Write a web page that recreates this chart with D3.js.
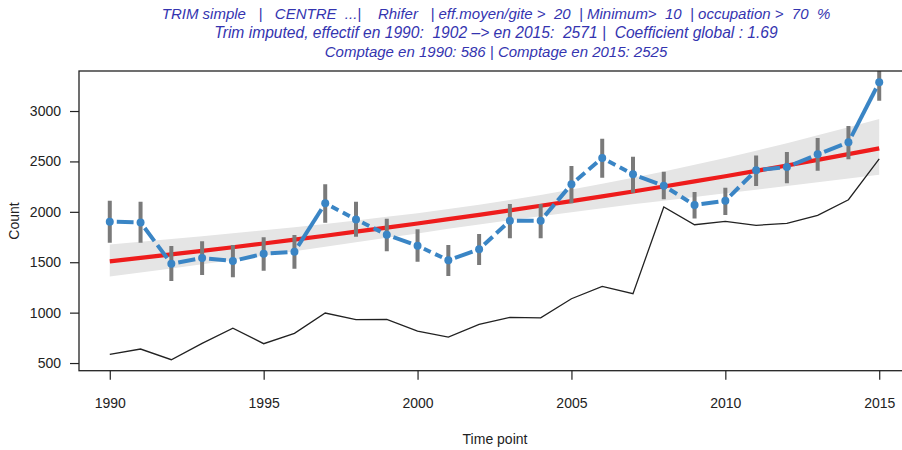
<!DOCTYPE html>
<html><head><meta charset="utf-8">
<script src="https://cdn.jsdelivr.net/npm/d3@7"></script>
<style>body{margin:0;background:#fff}svg{display:block}</style>
</head><body>
<svg id="c" width="902" height="450"></svg>
<script>
const years = [1990,1991,1992,1993,1994,1995,1996,1997,1998,1999,2000,2001,2002,2003,2004,2005,2006,2007,2008,2009,2010,2011,2012,2013,2014,2015];
const imputed = [1902,1895,1485,1542,1512,1584,1604,2084,1925,1773,1664,1519,1628,1912,1912,2273,2534,2372,2259,2067,2110,2412,2444,2570,2689,3285];
const errLow  = [1693,1693,1313,1373,1350,1416,1436,1892,1753,1608,1505,1363,1472,1737,1737,2084,2338,2190,2124,1935,1968,2256,2283,2408,2521,3102];
const errHigh = [2110,2100,1661,1707,1671,1747,1770,2273,2100,1932,1826,1671,1780,2077,2077,2454,2725,2547,2398,2196,2239,2560,2593,2732,2851,3480];
const counts  = [586,639,533,695,845,692,795,996,930,933,817,758,884,953,949,1138,1261,1188,2048,1872,1906,1866,1886,1965,2120,2525];
const trend   = [1509,1543,1578,1613,1649,1686,1724,1763,1803,1843,1884,1927,1970,2014,2060,2106,2153,2202,2251,2302,2353,2406,2460,2516,2572,2630];
const bandLow = [1359,1398,1439,1480,1522,1565,1609,1653,1698,1742,1786,1831,1874,1916,1957,1997,2035,2074,2111,2148,2184,2220,2257,2294,2331,2368];
const bandHigh= [1676,1703,1730,1758,1787,1817,1848,1880,1914,1950,1987,2028,2071,2118,2168,2221,2278,2338,2401,2467,2535,2607,2681,2759,2838,2921];
const xTicks = [1990,1995,2000,2005,2010,2015];
const yTicks = [500,1000,1500,2000,2500,3000];
const titleLines = [
  "TRIM simple   |   CENTRE  ...|    Rhifer   | eff.moyen/gite >  20  | Minimum>  10  | occupation >  70  %",
  "Trim imputed, effectif en 1990:  1902 –> en 2015:  2571 |  Coefficient global : 1.69",
  "Comptage en 1990: 586 | Comptage en 2015: 2525"
];

const svg = d3.select("#c");
const L = 79, T = 71, B = 370.7, R = 910;
const x = d3.scaleLinear().domain([1989, 2016]).range([L, R]);
const y = d3.scaleLinear().domain([424, 3397]).range([B, T]);
const font = "'Liberation Sans', Arial, Helvetica, sans-serif";

svg.append("clipPath").attr("id","clip").append("rect")
  .attr("x", L).attr("y", T).attr("width", R - L).attr("height", B - T);
const g = svg.append("g").attr("clip-path","url(#clip)");

// confidence band
g.append("path")
  .datum(years.map((yr,i)=>({yr, lo: bandLow[i], hi: bandHigh[i]})))
  .attr("d", d3.area().x(d=>x(d.yr)).y0(d=>y(d.lo)).y1(d=>y(d.hi)))
  .attr("fill","#e5e5e5");

// trend line
g.append("path")
  .datum(years.map((yr,i)=>({yr, v: trend[i]})))
  .attr("d", d3.line().x(d=>x(d.yr)).y(d=>y(d.v)))
  .attr("fill","none").attr("stroke","#ee1c1c").attr("stroke-width",4.2);

// counts line
g.append("path")
  .datum(years.map((yr,i)=>({yr, v: counts[i]})))
  .attr("d", d3.line().x(d=>x(d.yr)).y(d=>y(d.v)))
  .attr("fill","none").attr("stroke","#222").attr("stroke-width",1.3);

// error bars
g.selectAll("line.err").data(years).join("line").attr("class","err")
  .attr("x1", d=>x(d)).attr("x2", d=>x(d))
  .attr("y1", (d,i)=>y(errLow[i])).attr("y2", (d,i)=>y(errHigh[i]))
  .attr("stroke","#7a7a7a").attr("stroke-width",4);

// imputed line: type "b" style segments with gaps around points, dashed
const segs = years.slice(0,-1).map((yr,i)=>{
  const x1 = x(yr), y1 = y(imputed[i]), x2 = x(years[i+1]), y2 = y(imputed[i+1]);
  const len = Math.hypot(x2-x1, y2-y1), ux = (x2-x1)/len, uy = (y2-y1)/len, gap = 7;
  return {x1: x1+ux*gap, y1: y1+uy*gap, x2: x2-ux*gap, y2: y2-uy*gap, v: len - 2*gap};
});
g.selectAll("line.seg").data(segs).join("line").attr("class","seg")
  .attr("x1",d=>d.x1).attr("y1",d=>d.y1).attr("x2",d=>d.x2).attr("y2",d=>d.y2)
  .attr("stroke","#3a85c5").attr("stroke-width",4)
  .attr("stroke-dasharray", d => (d.v > 20 && d.v < 38) ? `${(d.v-5)/2},5` : null);

g.selectAll("circle.pt").data(years).join("circle").attr("class","pt")
  .attr("cx", d=>x(d)).attr("cy", (d,i)=>y(imputed[i])).attr("r",4)
  .attr("fill","#3a85c5");

// box
svg.append("rect").attr("x",L).attr("y",T).attr("width",R-L).attr("height",B-T)
  .attr("fill","none").attr("stroke","#222").attr("stroke-width",1.3);

// y axis
const ya = svg.append("g").attr("transform",`translate(${L},0)`)
  .call(d3.axisLeft(y).tickValues(yTicks).tickSize(9).tickPadding(9).tickFormat(d3.format("d")));
ya.select(".domain").remove();
ya.selectAll("line").attr("stroke","#222").attr("stroke-width",1.2);
ya.selectAll("text").attr("font-family",font).attr("font-size",14).attr("fill","#222");

// x axis
const xa = svg.append("g").attr("transform",`translate(0,${B})`)
  .call(d3.axisBottom(x).tickValues(xTicks).tickSize(9).tickPadding(18).tickFormat(d3.format("d")));
xa.select(".domain").remove();
xa.selectAll("line").attr("stroke","#222").attr("stroke-width",1.2);
xa.selectAll("text").attr("font-family",font).attr("font-size",14).attr("fill","#222");

// axis titles
svg.append("text").attr("x",495).attr("y",444).attr("text-anchor","middle")
  .attr("font-family",font).attr("font-size",14).attr("fill","#222").text("Time point");
svg.append("text").attr("transform","translate(19,221) rotate(-90)").attr("text-anchor","middle")
  .attr("font-family",font).attr("font-size",14).attr("fill","#222").text("Count");

// titles
titleLines.forEach((t,i)=>{
  svg.append("text").attr("x",496).attr("y",19 + i*19).attr("text-anchor","middle")
    .attr("font-family",font).attr("font-style","italic").attr("font-size", i === 1 ? 15.6 : 15)
    .attr("fill","#3434b0").attr("xml:space","preserve").style("white-space","pre").text(t);
});
</script>
</body></html>
